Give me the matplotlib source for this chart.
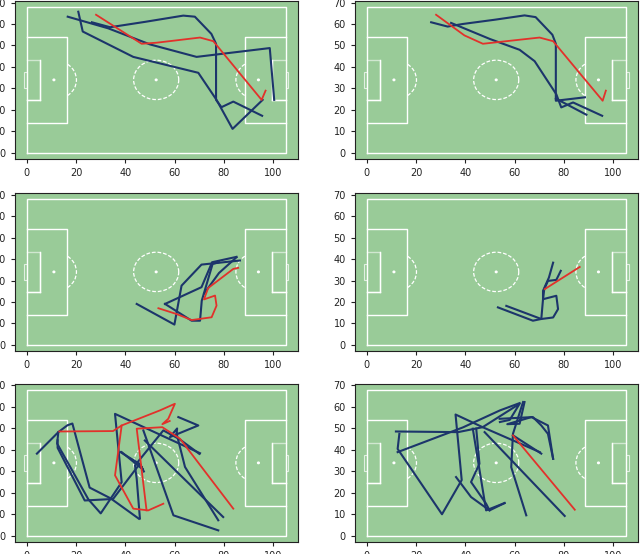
import matplotlib.pyplot as plt
from matplotlib.patches import Arc, Rectangle, Circle

# --- trajectories, (x, y) points in pitch metres ---
# panel 1 (top left)
p1_red = [[(28.1, 64.3), (46.6, 50.8), (52.7, 51.3), (70.3, 53.7), (75.7, 52.0),
           (95.3, 24.7), (96.9, 29.0)]]
p1_blue = [
    [(20.9, 65.7), (22.7, 56.5), (43.2, 44.7), (69.6, 37.3), (77.0, 24.7),
     (83.5, 11.2), (95.7, 24.7)],
    [(16.6, 63.4), (33.0, 58.0), (50.0, 50.5), (68.9, 44.7), (98.6, 48.8),
     (100.4, 24.7)],
    [(26.4, 60.8), (33.8, 58.5), (48.0, 61.0), (63.5, 63.9), (68.2, 63.4),
     (74.9, 55.4), (76.8, 50.8), (76.8, 24.7), (79.0, 21.3), (83.8, 23.9),
     (95.5, 17.3)],
]

# panel 2 (top right)
p2_red = [[(28.1, 64.3), (39.6, 54.7), (47.1, 50.8), (56.6, 52.0), (70.1, 53.7),
           (75.6, 52.0), (95.7, 24.3), (97.0, 29.0)]]
p2_blue = [
    [(26.1, 60.8), (32.8, 58.8), (38.9, 60.0), (52.0, 62.0), (64.0, 64.0),
     (68.5, 63.2), (75.3, 55.0), (76.7, 50.8), (76.7, 24.3), (88.5, 25.9)],
    [(34.2, 60.5), (50.0, 53.0), (62.0, 48.0), (68.1, 42.7), (76.9, 27.3),
     (78.9, 21.2), (83.7, 23.5), (95.5, 17.3)],
    [(76.7, 25.3), (89.1, 17.8)],
]

# panel 3 (middle left)
p3_red = [[(53.4, 17.1), (60.8, 14.4), (66.9, 11.6), (75.0, 12.9), (77.0, 18.3),
           (76.4, 23.0), (71.9, 21.2), (73.6, 26.5), (83.8, 35.4), (85.8, 35.9)]]
p3_blue = [
    [(44.6, 19.1), (59.9, 9.5), (62.8, 27.6), (70.9, 37.4), (86.5, 39.3)],
    [(56.1, 19.1), (70.9, 26.9), (75.2, 38.5), (85.1, 41.0)],
    [(56.1, 19.1), (66.9, 11.3), (70.3, 11.3), (71.0, 20.6), (75.4, 37.7),
     (78.0, 38.5)],
    [(72.0, 24.0), (78.0, 33.5), (85.1, 40.8)],
]

# panel 4 (middle right)
p4_red = [[(72.2, 26.0), (86.4, 36.3)]]
p4_blue = [
    [(75.6, 38.3), (73.9, 31.4), (71.5, 25.2), (71.5, 21.3), (70.8, 12.1),
     (67.4, 11.3), (53.2, 17.5)],
    [(78.7, 34.5), (76.9, 30.3), (73.5, 29.8), (72.0, 26.0), (71.5, 21.3),
     (76.9, 22.9), (77.6, 16.7), (75.6, 12.8), (70.8, 12.1), (56.6, 18.2)],
]

# panel 5 (bottom left)
p5_red = [
    [(13.2, 48.6), (35.0, 48.8), (38.5, 51.4), (35.8, 28.2), (43.2, 12.7),
     (49.3, 11.9), (55.4, 15.0)],
    [(38.5, 51.4), (54.0, 58.4), (60.1, 61.5), (57.4, 54.5), (55.0, 52.0),
     (58.0, 53.5)],
    [(48.6, 11.9), (44.6, 49.9), (55.0, 50.6), (62.2, 45.2), (83.8, 12.7)],
]
p5_blue = [
    [(4.1, 38.3), (12.8, 48.3), (16.5, 51.5), (18.5, 52.3), (25.5, 22.5),
     (34.0, 17.5), (45.5, 8.0)],
    [(12.5, 44.5), (12.5, 41.0), (23.5, 16.5), (35.0, 17.2), (45.8, 33.5),
     (38.0, 39.0)],
    [(12.8, 48.3), (12.3, 43.0), (25.0, 17.0), (30.0, 10.5), (38.5, 25.0),
     (35.8, 56.8), (70.3, 38.5)],
    [(45.9, 8.1), (44.6, 26.6), (43.9, 32.8), (55.4, 49.1), (62.0, 45.0),
     (70.0, 38.2)],
    [(61.5, 55.3), (69.6, 51.4), (58.1, 46.0), (61.0, 50.0), (60.8, 47.5),
     (64.2, 32.1), (77.7, 7.3)],
    [(47.3, 49.1), (59.5, 9.6), (77.7, 2.6)],
    [(47.9, 44.4), (79.7, 8.8)],
    [(38.5, 39.0), (47.0, 31.0), (45.9, 33.6), (47.5, 30.0)],
]

# panel 6 (bottom right)
p6_red = [[(59.3, 46.8), (84.4, 12.2)]]
p6_blue = [
    [(11.8, 48.6), (37.0, 48.3), (47.0, 50.6), (62.0, 61.5), (58.0, 54.0),
     (54.0, 53.0)],
    [(12.5, 39.0), (39.0, 50.5), (54.0, 58.4), (62.0, 61.8)],
    [(13.2, 47.5), (12.5, 40.5), (30.5, 10.1), (38.5, 26.0), (36.0, 56.5),
     (47.0, 50.6), (70.2, 39.0)],
    [(64.0, 62.3), (62.0, 52.2), (57.0, 52.0), (66.8, 55.3), (73.5, 51.4),
     (75.6, 35.9)],
    [(47.8, 48.3), (80.3, 9.3)],
    [(43.0, 49.9), (48.4, 11.9), (55.9, 15.3)],
    [(36.2, 27.4), (42.3, 18.1), (49.8, 11.9), (55.9, 15.3)],
    [(44.4, 49.9), (45.7, 33.6), (42.3, 25.1), (48.4, 15.0), (49.8, 11.9)],
    [(63.4, 62.3), (59.3, 47.5), (58.6, 32.0), (64.7, 9.6)],
    [(53.9, 54.5), (67.4, 55.3), (70.8, 51.4), (73.5, 47.5), (75.6, 35.9)],
    [(59.3, 46.8), (70.8, 38.3)],
]

panels = [(p1_red, p1_blue), (p2_red, p2_blue), (p3_red, p3_blue),
          (p4_red, p4_blue), (p5_red, p5_blue), (p6_red, p6_blue)]

FIELD = "#99cb98"
BLUE = "#1c356b"
RED = "#e2312b"
L, W = 105, 68


def draw_pitch(ax):
    kw = dict(color="white", lw=1.0, zorder=1)
    ax.plot([0, 0, L, L, 0], [0, W, W, 0, 0], **kw)
    # penalty boxes
    ax.plot([0, 16.5, 16.5, 0], [13.85, 13.85, 54.15, 54.15], **kw)
    ax.plot([L, L - 16.5, L - 16.5, L], [13.85, 13.85, 54.15, 54.15], **kw)
    # six-yard boxes (drawn fainter)
    kw6 = dict(color="white", lw=1.0, alpha=0.55, zorder=1)
    ax.plot([0, 5.5, 5.5, 0], [24.85, 24.85, 43.15, 43.15], **kw6)
    ax.plot([L, L - 5.5, L - 5.5, L], [24.85, 24.85, 43.15, 43.15], **kw6)
    ax.plot([5.5, 5.5], [24.85, 43.15], **kw)
    ax.plot([L - 5.5, L - 5.5], [24.85, 43.15], **kw)
    ax.plot([0, 5.5], [24.85, 24.85], **kw)
    ax.plot([L, L - 5.5], [24.85, 24.85], **kw)
    # goals
    ax.add_patch(Rectangle((-1.2, 30.3), 1.2, 7.3, fill=False, ec="white",
                           lw=0.8, alpha=0.7, zorder=1))
    ax.add_patch(Rectangle((L, 30.3), 1.2, 7.3, fill=False, ec="white",
                           lw=0.8, alpha=0.7, zorder=1))
    # circles and arcs, dotted
    ax.add_patch(Arc((L / 2, W / 2), 18.3, 18.3, ec="white", lw=0.9,
                     ls=(0, (3, 1.5)), zorder=1))
    ax.add_patch(Arc((11, W / 2), 18.3, 18.3, theta1=-53, theta2=53,
                     ec="white", lw=0.9, ls=(0, (3, 1.5)), zorder=1))
    ax.add_patch(Arc((L - 11, W / 2), 18.3, 18.3, theta1=127, theta2=233,
                     ec="white", lw=0.9, ls=(0, (3, 1.5)), zorder=1))
    for sx in (11, L / 2, L - 11):
        ax.add_patch(Circle((sx, W / 2), 0.35, color="white", zorder=1))


fig = plt.figure(figsize=(6.4, 5.54), dpi=100)
lefts = [0.0234, 0.5547]
bottoms = [0.713, 0.3664, 0.0217]

for i, (reds, blues) in enumerate(panels):
    ax = fig.add_axes([lefts[i % 2], bottoms[i // 2], 0.442, 0.2852])
    ax.set_facecolor(FIELD)
    draw_pitch(ax)
    for path in blues:
        xs, ys = zip(*path)
        ax.plot(xs, ys, color=BLUE, lw=1.5, zorder=3)
    for path in reds:
        xs, ys = zip(*path)
        ax.plot(xs, ys, color=RED, lw=1.3, zorder=4)
    ax.set_xlim(-4.8, 110)
    ax.set_ylim(-2.8, 70.7)
    ax.set_xticks([0, 20, 40, 60, 80, 100])
    ax.set_yticks([0, 10, 20, 30, 40, 50, 60, 70])
    ax.tick_params(labelsize=7, length=3, colors="#222222")
    for s in ax.spines.values():
        s.set_color("#222222")
        s.set_linewidth(0.8)

plt.savefig("out.png", dpi=100)
